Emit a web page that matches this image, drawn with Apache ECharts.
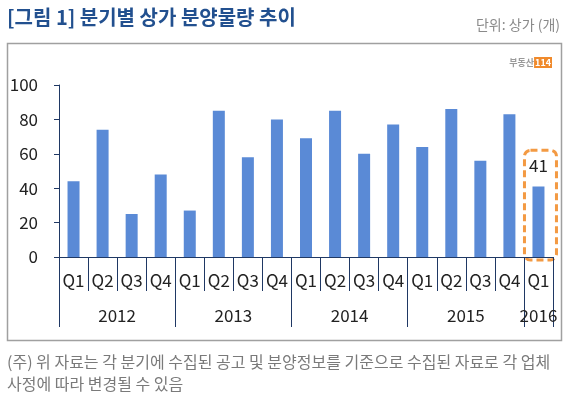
<!DOCTYPE html>
<html>
<head>
<meta charset="utf-8">
<script src="https://cdn.jsdelivr.net/npm/echarts@6/dist/echarts.min.js"></script>
<style>
  html, body { margin: 0; padding: 0; background: #fff; }
  #chart { width: 577px; height: 398px; }
</style>
</head>
<body>
<div id="chart"></div>
<script>
var quarters = ['Q1', 'Q2', 'Q3', 'Q4', 'Q1', 'Q2', 'Q3', 'Q4', 'Q1', 'Q2', 'Q3', 'Q4', 'Q1', 'Q2', 'Q3', 'Q4', 'Q1'];
var supply = [44, 74, 25, 48, 27, 85, 58, 80, 69, 85, 60, 77, 64, 86, 56, 83, 41];
var years = ['2012', '2013', '2014', '2015', '2016'];
var quartersPerYear = [4, 4, 4, 4, 1];
var yTicks = [0, 20, 40, 60, 80, 100];

var fontKR = '"Noto Sans CJK KR", sans-serif';
var navy = '#1f3864';

// year axis: half-quarter points, label in the middle of each year, tick on each boundary
var yearPoints = [];
var yearLabelAt = {};
var yearTickAt = {0: true};
var pos = 0;
for (var i = 0; i < years.length; i++) {
  yearLabelAt[pos + quartersPerYear[i]] = years[i];
  pos += quartersPerYear[i] * 2;
  yearTickAt[pos] = true;
}
for (var k = 0; k <= pos; k++) yearPoints.push(yearLabelAt[k] || '');

var barData = supply.map(function (v, idx) {
  if (idx === supply.length - 1) {
    return { value: v, label: { show: true } };
  }
  return v;
});

var mycharts = echarts.init(document.getElementById('chart'));
var option = {
  animation: false,
  textStyle: { fontFamily: fontKR },
  title: [
    {
      text: '[그림 1] 분기별 상가 분양물량 추이',
      left: 7, top: 7, padding: 0,
      textStyle: { fontSize: 20, fontWeight: 'bold', color: '#22508f', fontFamily: fontKR }
    },
    {
      text: '단위: 상가 (개)',
      right: 17, top: 18, padding: 0,
      textStyle: { fontSize: 14, fontWeight: 'normal', color: '#8a8a8a', fontFamily: fontKR }
    },
    {
      text: '{a|부동산}{b|114}',
      right: 25, top: 57, padding: 0,
      textStyle: {
        rich: {
          a: { fontSize: 9, color: '#9a9a9a', fontWeight: 'bold', fontFamily: fontKR },
          b: { fontSize: 9, color: '#fff', backgroundColor: '#f08a2c', fontWeight: 'bold', padding: [1, 1] }
        }
      }
    },
    {
      text: '(주) 위 자료는 각 분기에 수집된 공고 및 분양정보를 기준으로 수집된 자료로 각 업체\n사정에 따라 변경될 수 있음',
      left: 7, top: 351, padding: 0,
      textStyle: { fontSize: 16, fontWeight: 'normal', color: '#7a7a7a', lineHeight: 22, fontFamily: fontKR }
    }
  ],
  grid: { left: 59, right: 24, top: 85, bottom: 141 },
  xAxis: [
    {
      type: 'category',
      data: quarters,
      axisLine: { lineStyle: { color: navy, width: 1 } },
      axisTick: { show: true, length: 34, interval: 0, lineStyle: { color: navy } },
      axisLabel: { interval: 0, fontSize: 17, color: '#222', margin: 15 }
    },
    {
      type: 'category',
      position: 'bottom',
      boundaryGap: false,
      data: yearPoints,
      axisLine: { show: false },
      axisTick: {
        show: true, length: 70, lineStyle: { color: navy },
        interval: function (idx) { return !!yearTickAt[idx]; }
      },
      axisLabel: {
        fontSize: 17, color: '#222', margin: 50,
        interval: function (idx, val) { return val !== ''; }
      }
    }
  ],
  yAxis: {
    type: 'value',
    min: yTicks[0], max: yTicks[yTicks.length - 1], interval: 20,
    axisLine: { show: true, lineStyle: { color: navy } },
    axisTick: { show: true, length: 5, lineStyle: { color: navy } },
    splitLine: { show: false },
    axisLabel: { fontSize: 17, color: '#222', margin: 21 }
  },
  series: [
    {
      name: '분양물량',
      type: 'bar',
      barWidth: 12,
      data: barData,
      itemStyle: { color: '#5a8ad6' },
      label: { show: false, position: 'top', distance: 12, fontSize: 17, color: '#222' }
    }
  ]
};
mycharts.setOption(option);

// frame around chart area + dashed highlight around last quarter
var last = supply.length - 1;
var topPt = mycharts.convertToPixel({ xAxisIndex: 0, yAxisIndex: 0 }, [last, 62]);
var basePt = mycharts.convertToPixel({ xAxisIndex: 0, yAxisIndex: 0 }, [last, 0]);
mycharts.setOption({
  graphic: [
    {
      type: 'rect', silent: true, z: -1,
      shape: { x: 7.5, y: 43.5, width: 554, height: 297 },
      style: { fill: 'none', stroke: '#a0a0a0', lineWidth: 1.5 }
    },
    {
      type: 'rect', silent: true,
      shape: { x: topPt[0] - 14, y: topPt[1], width: 32, height: basePt[1] - topPt[1] + 3, r: 6 },
      style: { fill: 'none', stroke: '#f39a43', lineWidth: 3, lineDash: [7, 4] }
    }
  ]
});
</script>
</body>
</html>
